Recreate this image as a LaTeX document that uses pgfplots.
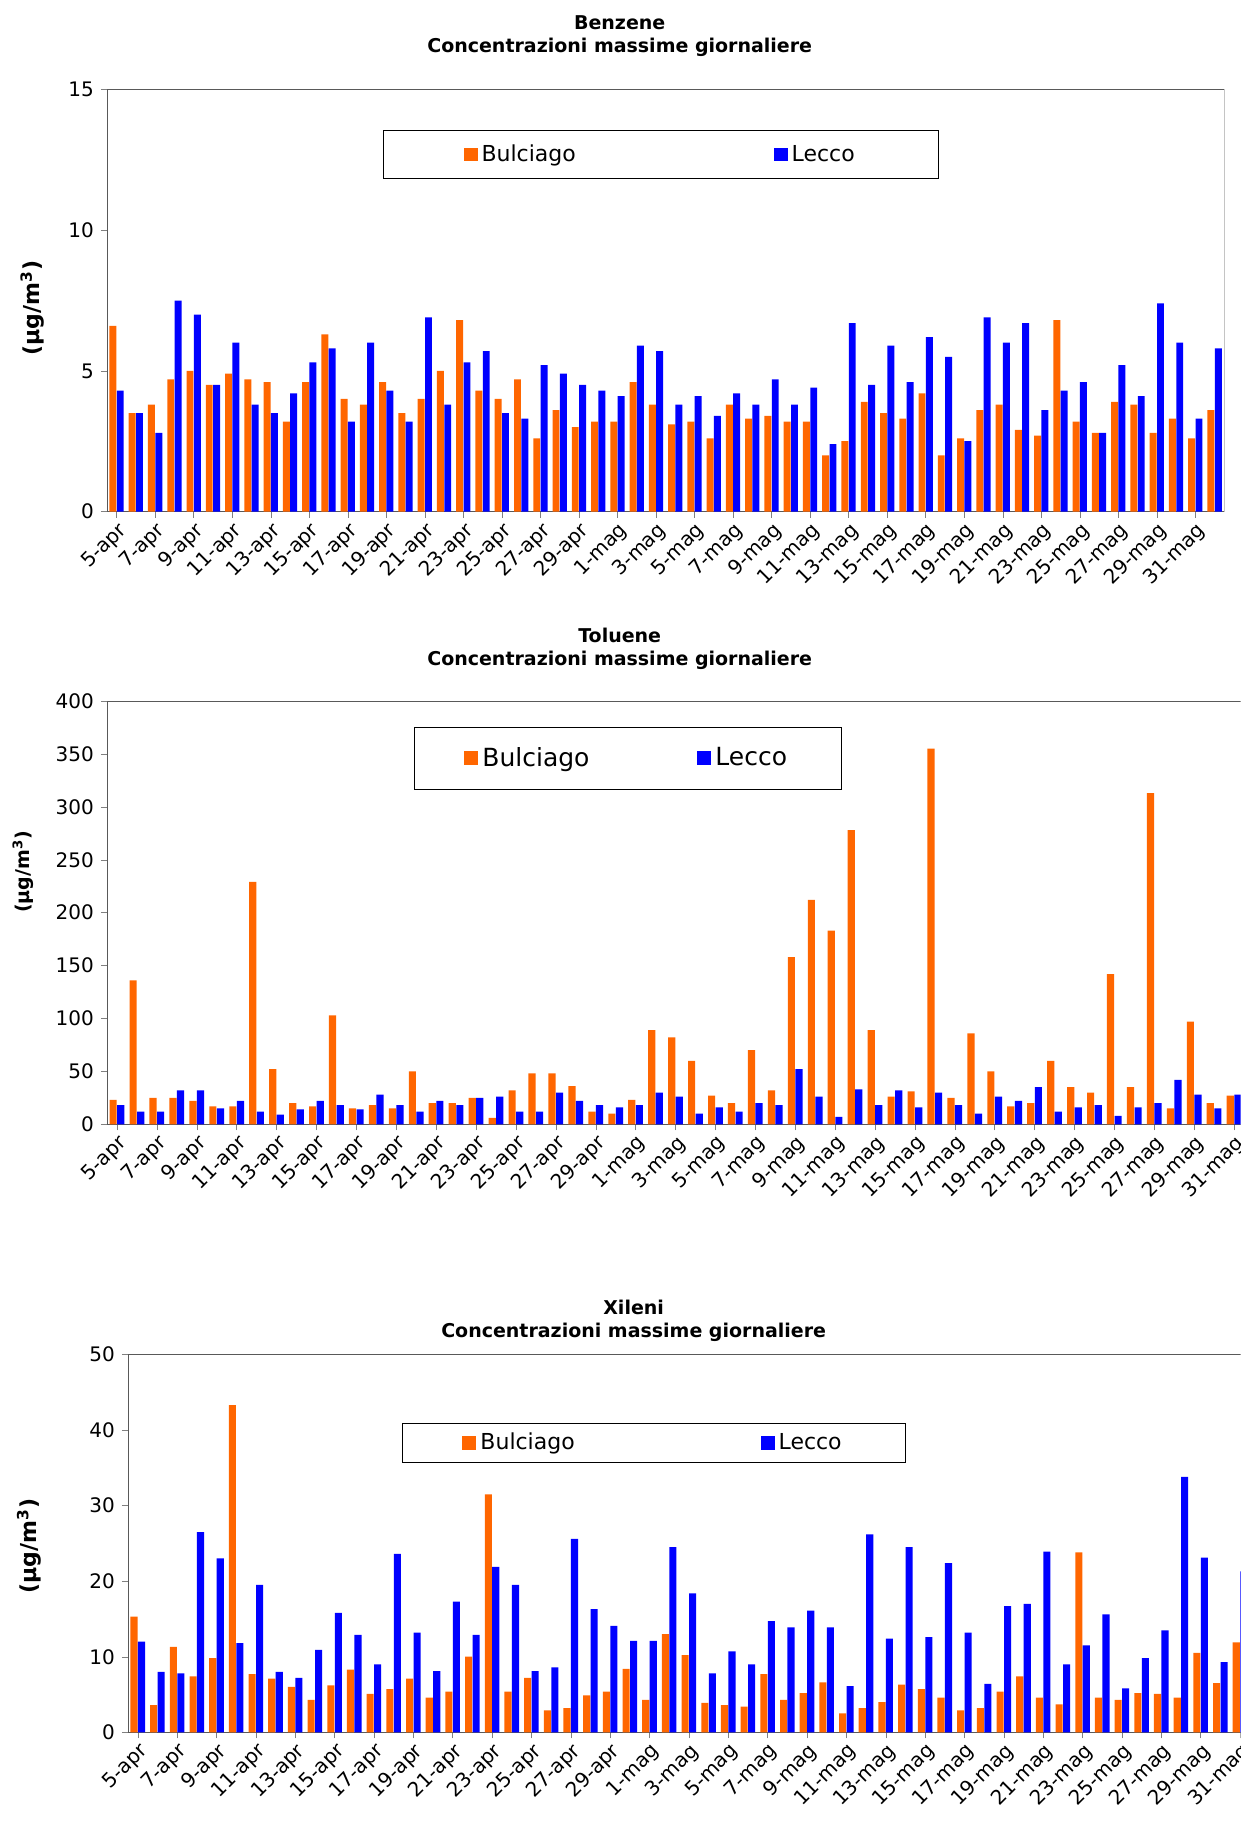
\documentclass[border=0pt]{standalone}
\usepackage{pgfplots}
\pgfplotsset{compat=1.18}
\usepackage{pgfplotstable}
\usepackage{fontspec}
\setmainfont{DejaVu Sans}
\definecolor{bor}{HTML}{FF6600}
\definecolor{bbl}{HTML}{0000FF}
\newcommand{\U}{0.5815pt}
\pgfplotstableread{
x B L
0 6.6 4.3
1 3.5 3.5
2 3.8 2.8
3 4.7 7.5
4 5.0 7.0
5 4.5 4.5
6 4.9 6.0
7 4.7 3.8
8 4.6 3.5
9 3.2 4.2
10 4.6 5.3
11 6.3 5.8
12 4.0 3.2
13 3.8 6.0
14 4.6 4.3
15 3.5 3.2
16 4.0 6.9
17 5.0 3.8
18 6.8 5.3
19 4.3 5.7
20 4.0 3.5
21 4.7 3.3
22 2.6 5.2
23 3.6 4.9
24 3.0 4.5
25 3.2 4.3
26 3.2 4.1
27 4.6 5.9
28 3.8 5.7
29 3.1 3.8
30 3.2 4.1
31 2.6 3.4
32 3.8 4.2
33 3.3 3.8
34 3.4 4.7
35 3.2 3.8
36 3.2 4.4
37 2.0 2.4
38 2.5 6.7
39 3.9 4.5
40 3.5 5.9
41 3.3 4.6
42 4.2 6.2
43 2.0 5.5
44 2.6 2.5
45 3.6 6.9
46 3.8 6.0
47 2.9 6.7
48 2.7 3.6
49 6.8 4.3
50 3.2 4.6
51 2.8 2.8
52 3.9 5.2
53 3.8 4.1
54 2.8 7.4
55 3.3 6.0
56 2.6 3.3
57 3.6 5.8
}\benz
\pgfplotstableread{
x B L
0 23 18
1 136 12
2 25 12
3 25 32
4 22 32
5 17 15
6 17 22
7 229 12
8 52 9
9 20 14
10 17 22
11 103 18
12 15 14
13 18 28
14 15 18
15 50 12
16 20 22
17 20 18
18 25 25
19 6 26
20 32 12
21 48 12
22 48 30
23 36 22
24 12 18
25 10 16
26 23 18
27 89 30
28 82 26
29 60 10
30 27 16
31 20 12
32 70 20
33 32 18
34 158 52
35 212 26
36 183 7
37 278 33
38 89 18
39 26 32
40 31 16
41 355 30
42 25 18
43 86 10
44 50 26
45 17 22
46 20 35
47 60 12
48 35 16
49 30 18
50 142 8
51 35 16
52 313 20
53 15 42
54 97 28
55 20 15
56 27 28
}\tol
\pgfplotstableread{
x B L
0 15.3 12
1 3.6 8
2 11.3 7.8
3 7.4 26.5
4 9.8 23
5 43.3 11.8
6 7.7 19.5
7 7.1 8
8 6 7.2
9 4.3 10.9
10 6.2 15.8
11 8.3 12.9
12 5.1 9
13 5.7 23.6
14 7.1 13.2
15 4.6 8.1
16 5.4 17.3
17 10 12.9
18 31.5 21.9
19 5.4 19.5
20 7.2 8.1
21 2.9 8.6
22 3.2 25.6
23 4.9 16.3
24 5.4 14.1
25 8.4 12.1
26 4.3 12.1
27 13 24.5
28 10.2 18.4
29 3.9 7.8
30 3.6 10.7
31 3.4 9
32 7.7 14.7
33 4.3 13.9
34 5.2 16.1
35 6.6 13.9
36 2.5 6.1
37 3.2 26.2
38 4 12.4
39 6.3 24.5
40 5.7 12.6
41 4.6 22.4
42 2.9 13.2
43 3.2 6.4
44 5.4 16.7
45 7.4 17
46 4.6 23.9
47 3.7 9
48 23.8 11.5
49 4.6 15.6
50 4.3 5.8
51 5.2 9.8
52 5.1 13.5
53 4.6 33.8
54 10.5 23.1
55 6.5 9.3
56 11.9 21.3
}\xil
\pgfplotsset{
  mybars/.style={
    scale only axis, ybar, bar width=0.36, ymin=0,
    xtick={0,2,...,56},
    xticklabels={5-apr,7-apr,9-apr,11-apr,13-apr,15-apr,17-apr,19-apr,21-apr,23-apr,25-apr,27-apr,29-apr,1-mag,3-mag,5-mag,7-mag,9-mag,11-mag,13-mag,15-mag,17-mag,19-mag,21-mag,23-mag,25-mag,27-mag,29-mag,31-mag},
    x tick label style={rotate=45, anchor=north east, font=\fontsize{10}{12}\selectfont, inner sep=1pt},
    y tick label style={font=\fontsize{10}{12}\selectfont},
    /pgf/number format/assume math mode=true,
    tick align=outside, ytick pos=left, xtick pos=bottom,
    major tick length=3pt,
    axis line style={gray!70!black},
    legend columns=2,
    legend image code/.code={\fill[##1] (0pt,-3.5pt) rectangle (7pt,3.5pt);},
    legend style={draw=black, font=\fontsize{11}{13}\selectfont, anchor=center, inner xsep=30pt, inner ysep=5pt,
      /tikz/every even column/.append style={column sep=80pt}},
  },
  bo/.style={fill=bor, draw=none, bar shift=-0.19},
  bl/.style={fill=bbl, draw=none, bar shift=0.19},
}
\begin{document}
\begin{tikzpicture}[x=\U,y=\U]
\useasboundingbox (0,0) rectangle (1067,1568);
\clip (0,0) rectangle (1067,1568);
% Benzene
\begin{axis}[mybars, at={(53.50pt,655.93pt)}, anchor=south west, width=558.82pt, height=211.08pt,
  xmin=-0.5, xmax=57.5, ymax=15, ytick={0,5,10,15}, axis x line*=bottom, axis y line*=left,
  legend style={at={(rel axis cs:0.496,0.846)}, inner xsep=40pt, /tikz/every even column/.append style={column sep=97pt}}]
\addplot[bo] table[x=x,y=B]{\benz};
\addplot[bl] table[x=x,y=L]{\benz};
\legend{Bulciago,Lecco}
\draw[gray!70!black] (rel axis cs:0,1) -- (rel axis cs:1,1) -- (rel axis cs:1,0);
\end{axis}
\node[font=\bfseries\fontsize{9.5}{11.5}\selectfont, align=center] at (533,1537) {Benzene\\Concentrazioni massime giornaliere};
\node[rotate=90, font=\bfseries\fontsize{11}{13}\selectfont] at (28,1303) {(µg/m\textsuperscript{3})};
% Toluene
\begin{axis}[mybars, at={(53.50pt,349.48pt)}, anchor=south west, width=568.71pt, height=211.67pt,
  xmin=-0.5, xmax=56.5, ymax=400, ytick={0,50,...,400}, axis x line*=bottom, axis y line*=left,
  legend style={at={(rel axis cs:0.458,0.865)}, font=\fontsize{12.5}{15}\selectfont, inner xsep=25pt, inner ysep=8pt, /tikz/every even column/.append style={column sep=52pt}}]
\addplot[bo] table[x=x,y=B]{\tol};
\addplot[bl] table[x=x,y=L]{\tol};
\legend{Bulciago,Lecco}
\draw[gray!70!black] (rel axis cs:0,1) -- (rel axis cs:1,1);
\end{axis}
\node[font=\bfseries\fontsize{9.5}{11.5}\selectfont, align=center] at (533,1010) {Toluene\\Concentrazioni massime giornaliere};
\node[rotate=90, font=\bfseries\fontsize{9.5}{11}\selectfont] at (20,818) {(µg/m\textsuperscript{3})};
% Xileni
\begin{axis}[mybars, at={(63.97pt,45.36pt)}, anchor=south west, width=561.15pt, height=188.99pt,
  xmin=-0.5, xmax=56.5, ymax=50, ytick={0,10,...,50}, axis x line*=bottom, axis y line*=left,
  legend style={at={(rel axis cs:0.469,0.766)}, inner xsep=30pt, inner ysep=3pt, /tikz/every even column/.append style={column sep=91pt}}]
\addplot[bo] table[x=x,y=B]{\xil};
\addplot[bl] table[x=x,y=L]{\xil};
\legend{Bulciago,Lecco}
\draw[gray!70!black] (rel axis cs:0,1) -- (rel axis cs:1,1);
\end{axis}
\node[font=\bfseries\fontsize{9.5}{11.5}\selectfont, align=center] at (545,432) {Xileni\\Concentrazioni massime giornaliere};
\node[rotate=90, font=\bfseries\fontsize{11}{13}\selectfont] at (25,238) {(µg/m\textsuperscript{3})};
\end{tikzpicture}
\end{document}
